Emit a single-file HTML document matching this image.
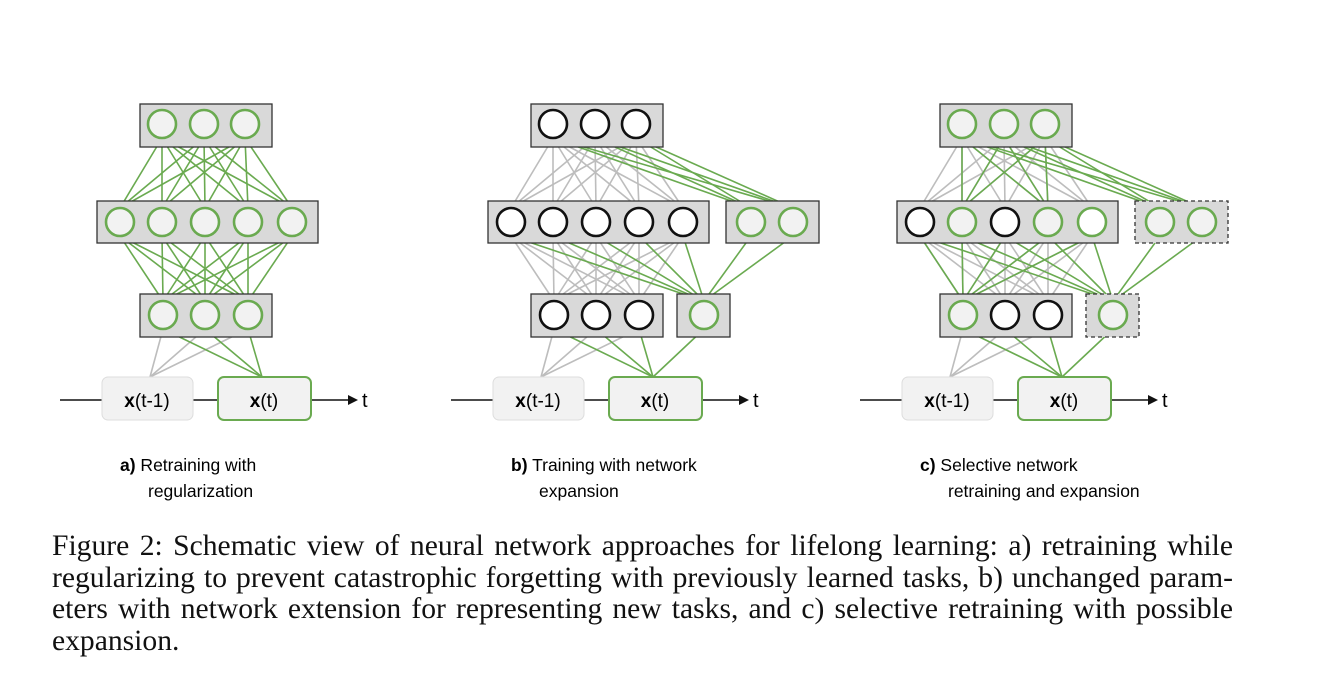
<!DOCTYPE html><html><head><style>
body{margin:0;background:#fff;width:1318px;height:685px;overflow:hidden;position:relative}
.cap{position:absolute;left:52px;top:531px;width:1181px;font-family:"Liberation Serif",serif;font-size:29.6px;line-height:31.5px;color:#111}
.cap div{text-align:justify;text-align-last:justify;white-space:nowrap}
.cap div.l{text-align-last:left}
</style></head><body>
<svg id="s" width="1318" height="520" style="position:absolute;left:0;top:0" font-family="Liberation Sans, sans-serif"></svg>
<div class="cap"><div>Figure 2: Schematic view of neural network approaches for lifelong learning: a) retraining while</div><div>regularizing to prevent catastrophic forgetting with previously learned tasks, b) unchanged param-</div><div>eters with network extension for representing new tasks, and c) selective retraining with possible</div><div class="l">expansion.</div></div>
<script>
(function(){
const s=document.getElementById('s');let h='';
const G='#6aaa50',GR='#bdbdbd',R=14;
const tp=[162,204,245],mid=[120,162,205,248,292],bot=[163,205,248];
const TY=124,MY=222,BY=315;
function L(x1,y1,x2,y2,c){h+=`<line x1="${x1}" y1="${y1}" x2="${x2}" y2="${y2}" stroke="${c}" stroke-width="1.6"/>`}
function box(x1,y1,x2,y2,d){h+=`<rect x="${x1}" y="${y1}" width="${x2-x1}" height="${y2-y1}" fill="#d9d9d9" stroke="#333" stroke-width="1.3" ${d?'stroke-dasharray="4,3"':''}/>`}
function N(x,y,t){const st=t=='k'?'#111':G;const f=t=='w'||t=='k'||t=='gw'?'#fff':'#f2f2f2';h+=`<circle cx="${x}" cy="${y}" r="${R}" fill="${f}" stroke="${st}" stroke-width="2.6"/>`}
function inp(o){
 L(60+o,400,102+o,400,'#111');L(193+o,400,218+o,400,'#111');L(311+o,400,348+o,400,'#111');
 h+=`<polygon points="${348+o},395 ${358+o},400 ${348+o},405" fill="#111"/>`;
 h+=`<text x="${362+o}" y="407" font-size="20">t</text>`;
 h+=`<rect x="${102+o}" y="377" width="91" height="43" rx="6" fill="#f2f2f2" stroke="#ddd"/>`;
 h+=`<rect x="${218+o}" y="377" width="93" height="43" rx="6" fill="#f2f2f2" stroke="${G}" stroke-width="2"/>`;
 h+=`<text x="${147+o}" y="407" font-size="19" text-anchor="middle"><tspan font-weight="bold">x</tspan>(t-1)</text>`;
 h+=`<text x="${264+o}" y="407" font-size="19" text-anchor="middle"><tspan font-weight="bold">x</tspan>(t)</text>`;
}
function label(o,b,l1,l2){h+=`<text x="${120+o}" y="471" font-size="17.5"><tspan font-weight="bold">${b}</tspan> ${l1}</text><text x="${148+o}" y="497" font-size="17.5">${l2}</text>`}
(function(){const o=0;
 for(const a of tp)for(const b of mid)L(a+o,TY+R,b+o,MY-R,G);
 for(const a of mid)for(const b of bot)L(a+o,MY+R,b+o,BY-R,G);
 for(const a of bot){L(a+o,BY+R,150+o,377,GR);}
 for(const a of bot){L(a+o,BY+R,262+o,377,G);}
 box(140,104,272,147);box(97,201,318,243);box(140,294,272,337);
 tp.forEach(x=>N(x,TY,'w2'));mid.forEach(x=>N(x,MY,'w2'));bot.forEach(x=>N(x,BY,'w2'));
 inp(0);label(0,'a)','Retraining with','regularization');
})();
function panel(o,mt,bt,tt,green2,dash){
 const em=[360,402],eb=313;
 for(const a of tp)for(const b of mid)L(a+o,TY+R,b+o,MY-R,GR);
 for(const a of mid)for(const b of bot)L(a+o,MY+R,b+o,BY-R,GR);
 for(const a of bot)L(a+o,BY+R,150+o,377,GR);
 for(const a of tp)for(const i of green2)L(a+o,TY+R,mid[i]+o,MY-R,G);
 for(const a of tp)for(const b of em)L(a+o,TY+R,b+o,MY-R,G);
 for(const a of mid)L(a+o,MY+R,eb+o,BY-R,G);
 if(dash)for(const a of mid)L(a+o,MY+R,bot[0]+o,BY-R,G);
 for(const a of em)L(a+o,MY+R,eb+o,BY-R,G);
 for(const a of bot)L(a+o,BY+R,262+o,377,G);L(eb+o,BY+R,262+o,377,G);
 box(140+o,104,272+o,147);box(97+o,201,318+o,243);box(140+o,294,272+o,337);
 box(335+o,201,428+o,243,dash);box(286+o,294,339+o,337,dash);
 tp.forEach(x=>N(x+o,TY,tt));mid.forEach((x,i)=>N(x+o,MY,mt[i]));bot.forEach((x,i)=>N(x+o,BY,bt[i]));
 em.forEach(x=>N(x+o,MY,'g'));N(eb+o,BY,'g');inp(o);
}
panel(391,['k','k','k','k','k'],['k','k','k'],'k',[],false);
label(391,'b)','Training with network','expansion');
panel(800,['k','g','k','g','gw'],['g','k','k'],'g',[1,3],true);
label(800,'c)','Selective network','retraining and expansion');
s.innerHTML=h;
})();
</script>
</body></html>
